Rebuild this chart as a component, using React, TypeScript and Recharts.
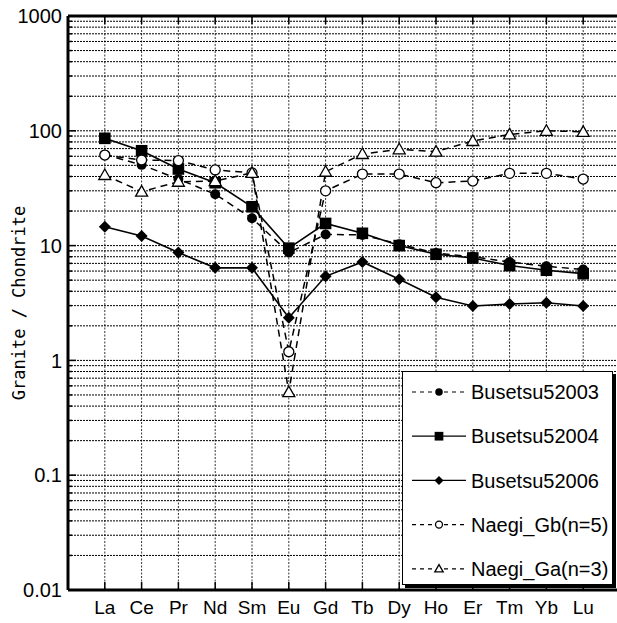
import React from 'react';
import { LineChart, Line, XAxis, YAxis, CartesianGrid, Legend, Label } from 'recharts';

const elements = ['La', 'Ce', 'Pr', 'Nd', 'Sm', 'Eu', 'Gd', 'Tb', 'Dy', 'Ho', 'Er', 'Tm', 'Yb', 'Lu'];
const busetsu52003 = [62, 50.5, 38, 28, 17.3, 8.7, 12.5, 12.4, 10.3, 8.6, 8.0, 7.2, 6.6, 6.2];
const busetsu52004 = [86, 67, 46.5, 35.3, 21.8, 9.5, 15.6, 12.8, 10.0, 8.4, 7.8, 6.7, 6.1, 5.7];
const busetsu52006 = [14.6, 12.1, 8.7, 6.4, 6.4, 2.35, 5.4, 7.2, 5.1, 3.55, 2.98, 3.1, 3.18, 2.98];
const naegiGb = [61.5, 55.7, 55, 45.6, 43, 1.19, 30, 42, 42, 35.3, 36.5, 42.6, 42.6, 38];
const naegiGa = [41.2, 29.5, 36, 36.5, 43, 0.53, 44, 62.8, 69, 65.8, 81.5, 93, 100, 98];

const decades = [0.01, 0.1, 1, 10, 100, 1000];
const minorMultipliers = [2, 3, 4, 5, 6, 7, 8, 9];
const yTicks: number[] = [];
decades.forEach((d, i) => {
  yTicks.push(d);
  if (i < decades.length - 1) minorMultipliers.forEach((m) => yTicks.push(Number((m * d).toPrecision(3))));
});
const xTicks = elements.map((_, i) => i + 1);

const data = elements.map((el, i) => ({
  idx: i + 1,
  el,
  b52003: busetsu52003[i],
  b52004: busetsu52004[i],
  b52006: busetsu52006[i],
  gb: naegiGb[i],
  ga: naegiGa[i],
}));

type Shape = 'filledCircle' | 'square' | 'diamond' | 'openCircle' | 'triangle';

const series: { key: string; name: string; shape: Shape; dashed: boolean }[] = [
  { key: 'b52003', name: 'Busetsu52003', shape: 'filledCircle', dashed: true },
  { key: 'b52004', name: 'Busetsu52004', shape: 'square', dashed: false },
  { key: 'b52006', name: 'Busetsu52006', shape: 'diamond', dashed: false },
  { key: 'gb', name: 'Naegi_Gb(n=5)', shape: 'openCircle', dashed: true },
  { key: 'ga', name: 'Naegi_Ga(n=3)', shape: 'triangle', dashed: true },
];

const Marker = ({ shape, cx, cy, s = 1 }: { shape: Shape; cx: number; cy: number; s?: number }) => {
  if (cx == null || cy == null || isNaN(cx) || isNaN(cy)) return null;
  switch (shape) {
    case 'filledCircle':
      return <circle cx={cx} cy={cy} r={5 * s} fill="#000" />;
    case 'square':
      return <rect x={cx - 5.8 * s} y={cy - 5.8 * s} width={11.6 * s} height={11.6 * s} fill="#000" />;
    case 'diamond':
      return (
        <polygon
          points={`${cx},${cy - 6 * s} ${cx + 6 * s},${cy} ${cx},${cy + 6 * s} ${cx - 6 * s},${cy}`}
          fill="#000"
        />
      );
    case 'openCircle':
      return <circle cx={cx} cy={cy} r={5 * s} fill="#fff" stroke="#000" strokeWidth={1.3} />;
    case 'triangle':
      return (
        <polygon
          points={`${cx},${cy - 6 * s} ${cx + 6 * s},${cy + 4.5 * s} ${cx - 6 * s},${cy + 4.5 * s}`}
          fill="#fff"
          stroke="#000"
          strokeWidth={1.3}
        />
      );
  }
  return null;
};

const YTick = (props: any) => {
  const { x, y, payload } = props;
  const v = payload.value;
  const major = decades.some((d) => Math.abs(d - v) / d < 1e-6);
  return (
    <g>
      <line x1={x} y1={y} x2={x + (major ? 8 : 4)} y2={y} stroke="#000" strokeWidth={1.5} />
      {major && (
        <text x={x - 6} y={y} dy="0.36em" textAnchor="end" fontSize={20} fontFamily="Liberation Sans, Arial, sans-serif" fill="#000">
          {String(v)}
        </text>
      )}
    </g>
  );
};

const XTickBottom = (props: any) => {
  const { x, y, payload } = props;
  return (
    <g>
      <line x1={x} y1={y} x2={x} y2={y - 8} stroke="#000" strokeWidth={1.5} />
      <text x={x} y={y + 24} textAnchor="middle" fontSize={19} fontFamily="Liberation Sans, Arial, sans-serif" fill="#000">
        {elements[payload.value - 1]}
      </text>
    </g>
  );
};

const XTickTop = (props: any) => {
  const { x, y } = props;
  return <line x1={x} y1={y} x2={x} y2={y + 8} stroke="#000" strokeWidth={1.5} />;
};

const LegendBox = () => (
  <div
    style={{
      width: 211,
      height: 214,
      border: '1.5px solid #000',
      boxShadow: '3px 3px 0 #000',
      background: '#fff',
      boxSizing: 'border-box',
    }}
  >
    <svg width={208} height={211}>
      {series.map((s, i) => {
        const cy = 20 + 44.2 * i;
        return (
          <g key={s.key}>
            <line
              x1={9}
              y1={cy}
              x2={63}
              y2={cy}
              stroke="#000"
              strokeWidth={1.2}
              strokeDasharray={s.dashed ? '4 4' : undefined}
            />
            <Marker shape={s.shape} cx={36} cy={cy} s={s.shape === 'openCircle' || s.shape === 'triangle' ? 0.7 : 0.75} />
            <text x={68} y={cy} dy="0.36em" fontSize={20} fontFamily="Liberation Sans, Arial, sans-serif" fill="#000">
              {s.name}
            </text>
          </g>
        );
      })}
    </svg>
  </div>
);

export default function App() {
  return (
    <div
      style={{
        position: 'absolute',
        left: 0,
        top: 0,
        width: 617,
        height: 623,
        overflow: 'hidden',
        background: '#fff',
      }}
    >
      <LineChart width={640} height={623} data={data} margin={{ top: 0, right: 20, bottom: 0, left: 0 }}>
        <CartesianGrid vertical={false} stroke="#000" strokeWidth={1} strokeDasharray="2 1" />
        <CartesianGrid horizontal={false} stroke="#000" strokeWidth={0.8} strokeDasharray="2 1.5" />
        <XAxis
          dataKey="idx"
          type="number"
          domain={[0, 15]}
          ticks={xTicks}
          height={33}
          tickSize={0}
          tickMargin={0}
          tickLine={false}
          axisLine={{ stroke: '#000', strokeWidth: 3 }}
          tick={<XTickBottom />}
          interval={0}
          allowDataOverflow
        />
        <XAxis
          xAxisId="top"
          orientation="top"
          dataKey="idx"
          type="number"
          domain={[0, 15]}
          ticks={xTicks}
          height={16}
          tickSize={0}
          tickMargin={0}
          tickLine={false}
          axisLine={{ stroke: '#000', strokeWidth: 3 }}
          tick={<XTickTop />}
          interval={0}
          allowDataOverflow
        />
        <YAxis
          type="number"
          scale="log"
          domain={[0.01, 1000]}
          ticks={yTicks}
          width={68}
          tickSize={0}
          tickMargin={0}
          tickLine={false}
          axisLine={{ stroke: '#000', strokeWidth: 3 }}
          tick={<YTick />}
          interval={0}
          allowDataOverflow
        >
          <Label
            content={(p: any) => {
              const vb = p.viewBox || { x: 0, y: 16, width: 68, height: 574 };
              const cx = vb.x + 25;
              const cy = vb.y + vb.height / 2;
              return (
                <text
                  x={cx}
                  y={cy}
                  transform={`rotate(-90 ${cx} ${cy})`}
                  textAnchor="middle"
                  fontSize={17}
                  fontFamily="DejaVu Sans Mono, Liberation Mono, monospace"
                  fill="#000"
                >
                  Granite / Chondrite
                </text>
              );
            }}
          />
        </YAxis>
        {series.map((s) => (
          <Line
            key={s.key}
            dataKey={s.key}
            name={s.name}
            type="linear"
            stroke="#000"
            strokeWidth={s.dashed ? 1.5 : 1.6}
            strokeDasharray={s.dashed ? '7 5' : undefined}
            isAnimationActive={false}
            dot={(p: any) => <Marker key={`${s.key}-${p.index}`} shape={s.shape} cx={p.cx} cy={p.cy} />}
            activeDot={false}
          />
        ))}
        <Legend
          layout="horizontal"
          verticalAlign="middle"
          align="center"
          content={() => <LegendBox />}
          wrapperStyle={{ position: 'absolute', left: 402, top: 371, width: 211, height: 214 }}
        />
      </LineChart>
    </div>
  );
}
